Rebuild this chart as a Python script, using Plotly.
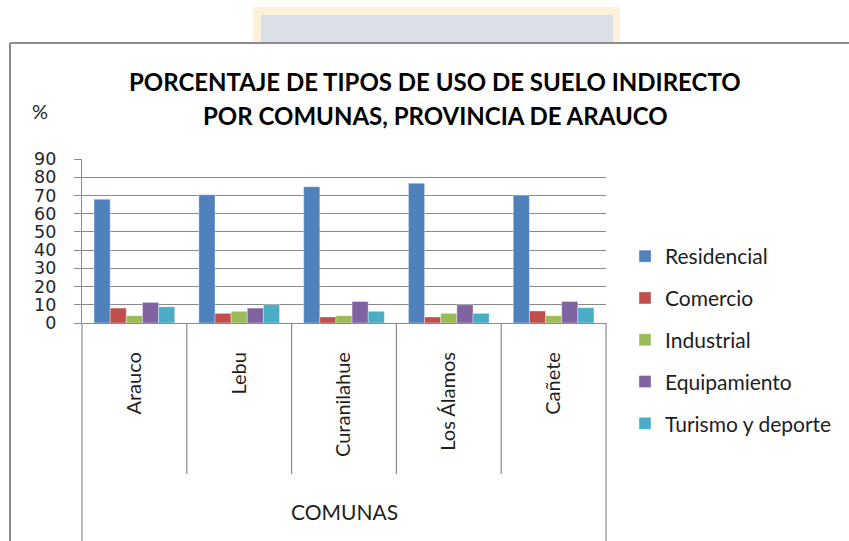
import plotly.graph_objects as go

comunas = ["Arauco", "Lebu", "Curanilahue", "Los Álamos", "Cañete"]
residencial = [67.9, 70.4, 74.8, 76.7, 70.1]
comercio = [8.2, 5.3, 3.3, 3.3, 6.6]
industrial = [4.0, 6.4, 4.0, 5.3, 4.0]
equipamiento = [11.3, 8.2, 11.8, 10.0, 11.8]
turismo = [8.9, 10.0, 6.4, 5.3, 8.4]

series = [
    ("Residencial", residencial, "#4F81BD"),
    ("Comercio", comercio, "#C0504D"),
    ("Industrial", industrial, "#9BBB59"),
    ("Equipamiento", equipamiento, "#8064A2"),
    ("Turismo y deporte", turismo, "#4BACC6"),
]

W, H = 849, 541
PL, PR, PT, PB = 82, 606, 159, 323


def px(x):
    return (x - PL) / (PR - PL)


def py(y):
    return (PB - y) / (PB - PT)


fig = go.Figure()
for i, (name, vals, col) in enumerate(series):
    fig.add_trace(go.Bar(
        x=comunas, y=vals, name=name, legendgroup=f"g{i}",
        marker=dict(color=col, line=dict(width=0.6, color="rgba(255,255,255,0.6)")),
    ))

GRID = "#8a8a8a"
FONT = "Lato"
TXT = "#1e1e1e"
shapes = []
# watermark behind the chart frame
shapes.append(dict(type="rect", xref="paper", yref="paper", x0=px(253), x1=px(620), y0=py(7), y1=py(43),
                   line=dict(width=0), fillcolor="#fdf1dc", layer="below"))
shapes.append(dict(type="rect", xref="paper", yref="paper", x0=px(261), x1=px(613), y0=py(15), y1=py(43),
                   line=dict(width=0), fillcolor="#dbe0e8", layer="below"))
# chart frame
shapes.append(dict(type="line", xref="paper", yref="paper", x0=px(10), x1=px(849), y0=py(43), y1=py(43),
                   line=dict(color="#8c8c8c", width=2)))
shapes.append(dict(type="line", xref="paper", yref="paper", x0=px(10), x1=px(10), y0=py(43), y1=py(541),
                   line=dict(color="#8c8c8c", width=2)))
# category dividers
for k in range(1, len(comunas)):
    shapes.append(dict(type="line", xref="x", yref="paper", x0=k - 0.5, x1=k - 0.5, y0=0, y1=py(474),
                       line=dict(color=GRID, width=1.2)))
for xe in (0, 1):
    shapes.append(dict(type="line", xref="paper", yref="paper", x0=xe, x1=xe, y0=0, y1=py(541),
                       line=dict(color=GRID, width=1.2)))

annotations = [
    dict(text="PORCENTAJE DE TIPOS DE USO DE SUELO INDIRECTO", xref="paper", yref="paper",
         x=px(435), y=py(81), xanchor="center", yanchor="middle", showarrow=False,
         font=dict(family=FONT, size=24, color="#000000", weight="bold")),
    dict(text="POR COMUNAS, PROVINCIA DE ARAUCO", xref="paper", yref="paper",
         x=px(435), y=py(115), xanchor="center", yanchor="middle", showarrow=False,
         font=dict(family=FONT, size=24, color="#000000", weight="bold")),
    dict(text="%", xref="paper", yref="paper", x=px(40), y=py(111), xanchor="center", yanchor="middle",
         showarrow=False, font=dict(family=FONT, size=20, color=TXT)),
    dict(text="COMUNAS", xref="paper", yref="paper", x=0.5, y=py(511), xanchor="center", yanchor="middle",
         showarrow=False, font=dict(family=FONT, size=21, color=TXT)),
]

fig.update_layout(
    width=W, height=H,
    margin=dict(l=PL, r=W - PR, t=PT, b=H - PB, pad=0),
    paper_bgcolor="white", plot_bgcolor="white",
    barmode="group", bargap=0.23, bargroupgap=0,
    showlegend=True,
    legend=dict(x=px(625), y=py(236), xanchor="left", yanchor="top", tracegroupgap=11.5, maxheight=400,
                font=dict(family=FONT, size=21, color=TXT), bgcolor="rgba(0,0,0,0)"),
    xaxis=dict(showgrid=False, showline=True, linecolor=GRID, linewidth=1.2, ticks="",
               tickangle=-90, ticklabelstandoff=20,
               tickfont=dict(family=FONT, size=20, color=TXT), range=[-0.5, len(comunas) - 0.5]),
    yaxis=dict(range=[0, 90], dtick=10, showgrid=True, gridcolor=GRID, gridwidth=1.2,
               showline=True, linecolor=GRID, linewidth=1.2, ticks="outside", ticklen=7, tickcolor=GRID,
               tickwidth=1.2, zeroline=False, ticklabelstandoff=14,
               tickfont=dict(family="DejaVu Sans", size=17.5, color="#262626")),
    shapes=shapes, annotations=annotations,
)

fig.write_html("out.html", config={"displayModeBar": False},
               post_script="document.body.style.margin='0';document.body.style.overflow='hidden';")
